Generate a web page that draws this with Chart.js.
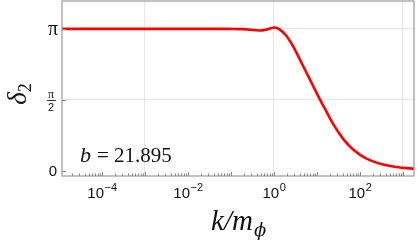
<!DOCTYPE html>
<html>
<head>
<meta charset="utf-8">
<script src="https://cdn.jsdelivr.net/npm/chart.js@4"></script>
<style>
  body { margin: 0; background: #fff; }
  #wrap { width: 417px; height: 247px; }
</style>
</head>
<body>
<div id="wrap"><canvas id="c" width="417" height="247"></canvas></div>
<script>
// values
const kValues = [1e-5, 1e-4, 1e-3, 1e-2, 0.1, 0.2, 0.47, 0.7, 1.05, 1.38, 1.97, 2.81, 4.03, 5.75, 8.2, 11.7, 15.3, 23.9, 40.9, 69.8, 143, 348, 851, 1905];
const delta2 = [3.1416, 3.1416, 3.1416, 3.1416, 3.14, 3.135, 3.104, 3.13, 3.17, 3.125, 2.985, 2.754, 2.463, 2.172, 1.878, 1.587, 1.384, 1.04, 0.711, 0.477, 0.274, 0.142, 0.077, 0.052];
const xLabelExp = [-4, -2, 0, 2];
const xGridExp = [-3, 0, 3];
const yTicks = [0, Math.PI / 2, Math.PI];

const points = kValues.map((k, i) => ({x: k, y: delta2[i]}));

// frame, ticks and LaTeX-ish labels
const decor = {
  id: 'decor',
  afterDraw(chart) {
    const ctx = chart.ctx;
    const a = chart.chartArea;
    const xs = chart.scales.x, ys = chart.scales.y;
    ctx.save();
    ctx.strokeStyle = '#999';
    ctx.lineWidth = 1.2;
    ctx.strokeRect(a.left, a.top, a.right - a.left, a.bottom - a.top);

    // log ticks along the bottom
    ctx.strokeStyle = '#888';
    ctx.lineWidth = 1;
    for (let e = -6; e <= 4; e++) {
      for (let m = 1; m <= 9; m++) {
        const v = m * Math.pow(10, e);
        if (v < xs.min || v > xs.max) continue;
        const px = Math.round(xs.getPixelForValue(v)) + 0.5;
        const len = m === 1 ? 4 : 2.5;
        ctx.beginPath();
        ctx.moveTo(px, a.bottom);
        ctx.lineTo(px, a.bottom - len);
        ctx.stroke();
      }
    }
    yTicks.forEach(v => {
      const py = Math.round(ys.getPixelForValue(v)) + 0.5;
      ctx.beginPath();
      ctx.moveTo(a.left, py);
      ctx.lineTo(a.left + 4, py);
      ctx.stroke();
    });

    // x tick labels 10^n
    ctx.fillStyle = '#111';
    ctx.textBaseline = 'alphabetic';
    xLabelExp.forEach(e => {
      const px = xs.getPixelForValue(Math.pow(10, e));
      const base = '10', sup = e < 0 ? '\u2212' + (-e) : String(e);
      ctx.font = '15px "Liberation Sans", Arial, sans-serif';
      const w1 = ctx.measureText(base).width;
      ctx.font = '11px "Liberation Sans", Arial, sans-serif';
      const w2 = ctx.measureText(sup).width;
      const x0 = px - (w1 + w2) / 2;
      ctx.font = '15px "Liberation Sans", Arial, sans-serif';
      ctx.textAlign = 'left';
      ctx.fillText(base, x0, 198);
      ctx.font = '11px "Liberation Sans", Arial, sans-serif';
      ctx.fillText(sup, x0 + w1 + 0.5, 191);
    });

    // y tick labels
    ctx.textAlign = 'center';
    ctx.font = '20px "Liberation Serif", serif';
    ctx.fillText('\u03c0', 53, ys.getPixelForValue(Math.PI) + 6);
    const yh = ys.getPixelForValue(Math.PI / 2);
    ctx.font = '12px "Liberation Serif", serif';
    ctx.fillText('\u03c0', 51, yh - 2);
    ctx.fillRect(47, yh, 9, 0.9);
    ctx.font = '11px "Liberation Sans", Arial, sans-serif';
    ctx.fillText('2', 51, yh + 11);
    ctx.font = '15px "Liberation Sans", Arial, sans-serif';
    ctx.fillText('0', 53, ys.getPixelForValue(0) + 5);

    // axis titles
    ctx.save();
    ctx.translate(26, 94);
    ctx.rotate(-Math.PI / 2);
    ctx.textAlign = 'left';
    ctx.font = 'italic 27px "Liberation Serif", serif';
    const wd = ctx.measureText('\u03b4').width;
    ctx.fillText('\u03b4', -(wd + 9) / 2, 0);
    ctx.font = '18px "Liberation Serif", serif';
    ctx.fillText('2', -(wd + 9) / 2 + wd, 5);
    ctx.restore();

    ctx.textAlign = 'left';
    ctx.font = 'italic 29px "Liberation Serif", serif';
    const wk = ctx.measureText('k/m').width;
    const xt = 237 - (wk + 10) / 2;
    ctx.fillText('k/m', xt, 230);
    ctx.font = 'italic 18px "DejaVu Serif", serif';
    ctx.fillText('\u03d5', xt + wk + 1, 236);

    // annotation
    ctx.font = 'italic 22px "Liberation Serif", serif';
    ctx.fillText('b', 80, 162);
    const wb = ctx.measureText('b').width;
    ctx.font = '21px "Liberation Serif", serif';
    ctx.fillText('= 21.895', 80 + wb + 6, 162);
    ctx.restore();
  }
};

new Chart(document.getElementById('c'), {
  type: 'line',
  data: {
    datasets: [{
      data: points,
      borderColor: '#ff0000',
      borderWidth: 2.6,
      pointRadius: 0,
      fill: false,
      cubicInterpolationMode: 'monotone'
    }]
  },
  options: {
    responsive: false,
    animation: false,
    layout: { padding: { left: 62, right: 3, top: 1, bottom: 71 } },
    plugins: { legend: { display: false }, tooltip: { enabled: false } },
    scales: {
      x: {
        type: 'logarithmic',
        min: Math.pow(10, -4.93),
        max: Math.pow(10, 3.26),
        afterBuildTicks: s => { s.ticks = xGridExp.map(e => ({value: Math.pow(10, e)})); },
        ticks: { display: false },
        grid: { color: '#e6e6e6', lineWidth: 1, drawTicks: false },
        border: { display: false }
      },
      y: {
        min: -0.11,
        max: 3.757,
        afterBuildTicks: s => { s.ticks = yTicks.map(v => ({value: v})); },
        ticks: { display: false },
        grid: { color: ctx => ctx.tick && ctx.tick.value === 0 ? 'rgba(0,0,0,0)' : '#e6e6e6', lineWidth: 1, drawTicks: false },
        border: { display: false }
      }
    }
  },
  plugins: [decor]
});
</script>
</body>
</html>
